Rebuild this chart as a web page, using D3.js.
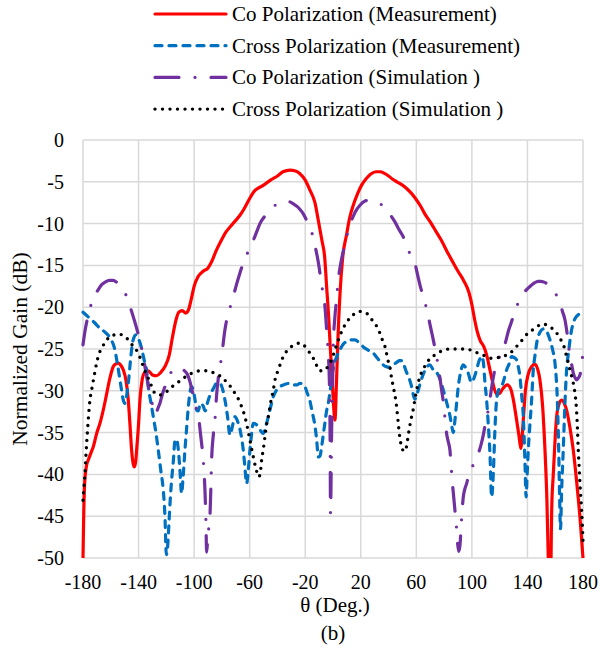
<!DOCTYPE html>
<html>
<head>
<meta charset="utf-8">
<script src="https://cdn.jsdelivr.net/npm/d3@7"></script>
<style>
  body { margin: 0; background: #fff; font-family: "Liberation Serif", serif; }
  svg text { font-family: "Liberation Serif", serif !important; }
</style>
</head>
<body>
<svg id="plot" width="600" height="653" font-family="Liberation Serif"></svg>
<script>
"use strict";

const xTicks = [-180, -140, -100, -60, -20, 20, 60, 100, 140, 180];
const yTicks = [0, -5, -10, -15, -20, -25, -30, -35, -40, -45, -50];
const legendLabels = [
  "Co Polarization (Measurement)",
  "Cross Polarization (Measurement)",
  "Co Polarization (Simulation )",
  "Cross Polarization (Simulation )"
];

// [theta (deg), normalized gain (dB)]
const coMeas = [
  [-180,-50],[-179.5,-45],[-178.8,-41],[-177.5,-39],[-176,-38.2],[-174,-37.3],[-172.6,-36.7],
  [-170,-35],[-167.8,-33.9],[-165,-32],[-162.9,-30.3],[-160.5,-28.4],[-158.2,-27.1],[-156.5,-26.8],
  [-154.6,-26.7],[-153,-26.9],[-151,-27.5],[-149,-28.8],[-147.4,-31.1],[-146,-34.5],[-145,-37.1],
  [-144,-38.6],[-143,-39.1],[-142,-38.4],[-141.4,-37.1],[-140,-34],[-139,-31.1],[-137.5,-28.8],
  [-136,-27.9],[-133,-27.6],[-130,-28.1],[-127,-28.2],[-124,-27.8],[-121,-27.1],[-118,-25.8],
  [-115.5,-23.5],[-113,-21.5],[-111,-20.6],[-108.5,-20.4],[-106,-20.7],[-104,-20.3],[-102,-19],
  [-100,-17.5],[-97,-16.3],[-93.5,-15.7],[-90,-15.3],[-87.5,-14.6],[-84,-13.2],[-81,-12.2],
  [-77,-11],[-72,-10],[-67,-9],[-64.6,-8.4],[-60,-7],[-57,-6.2],[-50,-5.4],[-45,-4.8],[-40,-4.3],
  [-36,-3.8],[-31,-3.6],[-27,-3.7],[-24,-4],[-20,-4.8],[-16.6,-6],[-13,-7.5],[-10.6,-9.6],
  [-8,-12],[-6,-14],[-4.6,-17.5],[-3,-21.5],[-2,-24.7],[-0.5,-29],[0.5,-32],[1.4,-33.5],
  [2.5,-29],[3.5,-24],[5,-18.5],[7,-14],[9.8,-11.3],[12,-9.3],[14.6,-7.8],[17.5,-6.5],[20.6,-5.4],
  [24,-4.6],[27,-4.1],[31,-3.8],[34,-3.8],[37,-4],[40,-4.3],[43,-4.7],[46,-5],[50,-5.4],[53,-5.8],
  [56,-6.3],[59,-6.9],[63,-7.9],[66,-8.8],[70,-9.8],[74,-10.9],[78,-12],[82,-13.3],[86.6,-14.7],
  [90,-15.7],[94,-16.8],[98,-18.3],[100,-19.7],[102,-21.5],[104,-23],[106,-24],[108.5,-24.7],
  [110.6,-25.7],[113,-27.5],[115,-29],[117.8,-30.4],[120,-30.3],[122,-29.8],[125.5,-29.3],
  [128,-29.8],[130,-31.2],[132.2,-33.5],[134,-35.5],[135.2,-36.9],[137,-33.5],[138.5,-30],
  [140.6,-28],[143,-27.1],[145.4,-26.8],[147.5,-27.5],[149,-28.7],[151,-32],[152.6,-37],
  [154,-43],[155,-50],[155.6,-53],[156.6,-53],[157.5,-44],[158.6,-40],[160,-35.5],[161,-33.1],
  [162.5,-31.7],[164.6,-31.1],[166.5,-31.5],[168.2,-32.3],[170.5,-34.3],[173,-37.1],
  [175.5,-41],[177.8,-45.1],[180,-50]
];

const crossMeas = [
  [-180,-20.6],[-176,-21.2],[-172,-21.8],[-168,-22.5],[-164,-23],[-160,-23.8],[-157.5,-24.8],
  [-155,-27],[-153,-29.1],[-151,-31.1],[-149.8,-31.5],[-148.5,-30.5],[-147,-28.5],[-145.5,-25.8],
  [-144,-24],[-142,-23.3],[-140,-23.8],[-138,-24.8],[-136,-26.3],[-134,-27.8],[-133,-29.5],
  [-131,-31.5],[-129.4,-33.1],[-127.5,-35],[-125.8,-37.1],[-124,-39.5],[-122.2,-41.9],[-121,-45],
  [-120,-49.6],[-119,-48.5],[-118,-45.5],[-117,-42.5],[-116,-40.3],[-115,-38.5],[-113.8,-36],
  [-112.6,-35.8],[-111.4,-37],[-110.2,-39.5],[-109,-42.3],[-108,-40.5],[-106.6,-37.1],
  [-105.4,-34.5],[-104.2,-32],[-103,-30.2],[-101.8,-29.5],[-100.5,-30],[-99.4,-31],[-98.2,-32.3],
  [-97,-32.4],[-95.5,-31.5],[-93.5,-31.8],[-92,-32.4],[-90.5,-31.5],[-88.5,-30.5],[-86,-29.7],
  [-83.8,-29.1],[-81.4,-29.1],[-79.5,-29.8],[-77.8,-31.1],[-76,-33],[-74.2,-35.3],[-72.5,-34.3],
  [-70.6,-33.1],[-68.2,-33.9],[-66.5,-35],[-64.6,-37.1],[-63.5,-39],[-62.2,-41.1],[-61,-39.5],
  [-59.8,-37.1],[-58.5,-35],[-57.4,-33.9],[-55.5,-34],[-53.8,-34.3],[-52,-34.8],[-50.2,-35.1],
  [-48.5,-34.3],[-46.6,-33.1],[-45,-32],[-43,-30.7],[-40.6,-29.9],[-38.2,-29.5],[-35.8,-29.3],
  [-31,-29.1],[-28.6,-29.3],[-26,-29.3],[-23.8,-29.1],[-22,-29.2],[-20.2,-29.5],[-18.5,-30.3],
  [-16.6,-31.2],[-15.4,-32.2],[-13,-34.2],[-11.8,-35.8],[-10.6,-37.9],[-9.4,-37.8],[-8.2,-36.7],
  [-6.8,-35],[-5.8,-33.8],[-4.5,-32.3],[-3.4,-31.5],[-2.2,-30.2],[-0.5,-28],[1.4,-26.5],[3,-25.8],
  [5,-25.1],[7.5,-24.4],[9.8,-24.1],[12.5,-23.9],[15.8,-23.9],[19,-24.3],[23,-24.9],[26,-25.2],
  [29,-25.5],[32,-26.1],[35,-26.7],[38,-27.1],[41,-27.2],[43.5,-26.9],[45.8,-26.6],[48,-26.4],
  [49.5,-26.4],[51,-26.9],[53,-27.8],[55,-28.6],[56.6,-29.5],[58,-30.6],[59,-31],[60,-30.6],
  [61.4,-29.9],[63,-29],[65,-28],[67.4,-27.2],[69.8,-26.9],[72.2,-27.5],[74.6,-27.8],[77,-28.6],
  [79.4,-29.9],[82,-31.5],[84.2,-33],[85.5,-34.2],[86.6,-35],[87.8,-33.5],[89,-31.5],[90.2,-29.5],
  [91.4,-28.2],[93.8,-26.9],[96,-27.4],[97.4,-27.9],[99,-28.8],[100,-29],[101.5,-28.5],
  [103.4,-27.5],[105,-26.5],[107,-25.9],[108.2,-26.5],[109.4,-29],[110.6,-31.1],[111.8,-34],
  [113,-37.5],[114.2,-42.7],[115.4,-40],[116.5,-35],[117.8,-31.1],[119.5,-29.8],[121.4,-29.5],
  [123,-28.7],[125,-27.5],[127,-26.7],[128.6,-25.9],[130.2,-26],[132.2,-26.3],[133.4,-27.1],
  [134.6,-28.3],[135.8,-30.5],[137,-33],[138.2,-38.5],[139,-42.7],[139.8,-40],[140.6,-37.1],
  [141.8,-34],[143,-31.1],[144.2,-27.5],[145.4,-25.8],[147,-24],[149,-23],[151.4,-22.6],
  [153.5,-22.8],[156.2,-23.9],[158,-25],[160,-27],[161.5,-31],[162.5,-37],[163.2,-43],
  [163.8,-46.5],[164.6,-42],[165.8,-37],[167,-31.5],[168.2,-27.5],[169.5,-25.5],[171.8,-22.7],
  [173,-21.9],[174.5,-21.3],[176.6,-20.9],[178.5,-20.6],[180,-20.6]
];

const coSim = [
  [-180,-24.5],[-178.5,-22.8],[-177,-21.5],[-175.2,-20.3],[-173.5,-19.3],[-171.6,-18.6],
  [-169,-17.9],[-166.5,-17.3],[-164,-17],[-161,-16.8],[-158.4,-16.8],[-156,-17],[-153.4,-17.5],
  [-151,-18],[-148.6,-18.7],[-147,-19.5],[-145,-20.5],[-143,-21.6],[-141.4,-22.5],[-139.5,-23.7],
  [-137.8,-24.9],[-136,-26.5],[-134.2,-28.3],[-132.5,-29.8],[-130.6,-31.1],[-129.4,-32.3],
  [-128.2,-32.8],[-127,-32.5],[-125.8,-32],[-124.6,-31.5],[-123,-30.5],[-121,-29.5],
  [-119.8,-28.9],[-117.4,-28],[-115,-27.5],[-112.6,-27.3],[-110.5,-27.2],[-109,-27.3],
  [-107,-27.6],[-105,-28],[-103,-28.9],[-101,-30.3],[-99.4,-31.3],[-98.2,-32.3],[-96.5,-33.5],
  [-95.5,-35],[-94.6,-36.3],[-93.4,-38.3],[-92.2,-41.9],[-91.5,-45.5],[-91,-49.3],[-90.3,-48],
  [-89.5,-46.5],[-88.6,-45],[-88,-42],[-87.4,-38.3],[-86.2,-35.3],[-85,-33.5],[-83.8,-30.5],
  [-82.6,-28.5],[-80.2,-25.9],[-77.8,-22.7],[-75.4,-20.7],[-73.5,-19.7],[-71.8,-18.7],
  [-69.5,-17.3],[-67,-15.9],[-64.6,-14.7],[-62.2,-13.8],[-60,-12.8],[-57.4,-12],[-55,-11],
  [-52.6,-10],[-49.5,-9.2],[-46.6,-8.6],[-43,-8],[-40,-7.6],[-37,-7.4],[-34,-7.3],[-31,-7.4],
  [-28,-7.7],[-25.5,-8],[-23.8,-8.3],[-21.5,-8.8],[-19,-9.6],[-17,-10.3],[-15.4,-11],[-13,-12.6],
  [-10.6,-14.6],[-8.2,-17.3],[-7,-18.5],[-5.8,-19.9],[-4.6,-22.7],[-3.4,-25.6],[-2.6,-29],
  [-2.2,-33],[-2,-38],[-1.8,-44.6],[-1,-35],[-0.3,-29],[0.2,-24.7],[1.4,-21.1],[2.5,-19.2],
  [3.8,-16.7],[5,-15.3],[6.2,-14.2],[8,-12.9],[9.8,-11.6],[11.5,-10.5],[13.4,-9.6],[16,-8.6],
  [19.4,-7.8],[23,-7.3],[26.6,-7.2],[30,-7.3],[33.8,-7.6],[36,-7.9],[38.6,-8.3],[41.5,-9],
  [44.6,-9.8],[47.5,-10.7],[50.6,-11.6],[53,-12.7],[55.4,-13.6],[57,-14.2],[59,-14.8],
  [61.4,-16.5],[63,-17.6],[65,-18.7],[66.8,-19.8],[68.6,-21.1],[70.5,-22.6],[72.2,-23.9],
  [73.5,-25],[74.6,-25.9],[76.5,-27.9],[78.2,-29.9],[79.4,-31.3],[80.6,-33.2],[81.8,-35.1],
  [83,-36.1],[84.2,-37.1],[85,-38.9],[86,-41.1],[86.8,-42.5],[87.8,-44.3],[89,-46.5],
  [89.8,-48.4],[90.5,-49.2],[91.4,-48.5],[92.5,-45.5],[93.8,-42.7],[95,-41.7],[96.2,-41.1],
  [97.4,-40.3],[98.6,-39.6],[99.8,-39.3],[101.5,-38.6],[104.6,-37.5],[106.5,-36.5],[108.2,-35.3],
  [110.6,-33.1],[111.8,-32.3],[113,-31],[115.4,-28.4],[117,-27.2],[119,-26.3],[120.5,-25.7],
  [122.6,-25.1],[124.5,-24],[126.2,-22.9],[128,-22],[129.8,-21.1],[132,-20],[134.6,-19.1],
  [137,-18.4],[139.4,-17.9],[142,-17.5],[145,-17.1],[147.5,-16.9],[149.5,-16.9],[152,-17],
  [155,-17.3],[158.6,-17.9],[161,-18.6],[163.4,-19.5],[165.2,-20.5],[167,-21.5],[168.7,-23.3],
  [170.6,-25.9],[172,-27],[173,-27.9],[174.5,-28.5],[175.4,-28.7],[176.5,-28.5],[177.8,-28.1],
  [179,-27],[180,-25.3]
];

const crossSim = [
  [-180,-43.1],[-179.3,-41.5],[-178.6,-40],[-177.8,-37.5],[-176.9,-35.1],[-176,-33],[-175,-31.1],
  [-173.8,-29.9],[-172.6,-28.8],[-170.2,-26.7],[-168.5,-25.6],[-166.6,-24.9],[-164,-24.2],
  [-161.8,-23.7],[-159.5,-23.4],[-157,-23.3],[-154.5,-23.2],[-152.2,-23.3],[-150,-23.5],
  [-147.4,-23.9],[-145.5,-24.3],[-143.8,-24.7],[-140.2,-25.5],[-138.5,-26.2],[-136.6,-27.1],
  [-134.5,-28],[-133,-28.5],[-131,-29.3],[-129.4,-30],[-127,-30.4],[-124.6,-30.5],[-122,-30.3],
  [-119.8,-30.1],[-117.4,-29.7],[-115,-29.4],[-112.6,-29.1],[-110,-28.8],[-107.8,-28.5],
  [-105,-28.2],[-101.8,-27.9],[-98.5,-27.7],[-95.8,-27.6],[-92.5,-27.6],[-89.8,-27.6],
  [-86.5,-27.8],[-83.8,-28],[-81.5,-28.2],[-79,-28.5],[-76.5,-29],[-74.2,-29.4],[-71.8,-30],
  [-69.4,-30.6],[-67.5,-31.2],[-65.8,-31.9],[-63.4,-33.1],[-61.5,-34.5],[-59.8,-35.9],
  [-58.5,-37],[-57.4,-37.9],[-55,-39.6],[-53.5,-40.3],[-52.5,-40],[-51.4,-38.3],[-50,-36.8],
  [-49,-35.5],[-47.8,-34],[-46.6,-33.1],[-45,-31.5],[-43,-29.9],[-41.5,-28.5],[-39.4,-27.5],
  [-37.5,-26.6],[-35.8,-25.9],[-33,-25.2],[-29.8,-24.7],[-27,-24.4],[-23.8,-24.3],[-21.5,-24.5],
  [-19,-24.9],[-17,-25.4],[-14.2,-26.1],[-12,-26.9],[-9.4,-27.6],[-7,-27.6],[-4.6,-27.3],
  [-2.5,-26.8],[-1,-26.3],[1.4,-25.1],[2.6,-24.5],[5,-23.4],[7.4,-22.5],[9.8,-21.8],[12.2,-21.3],
  [14.6,-20.9],[17,-20.6],[19.4,-20.5],[22,-20.6],[25.4,-20.9],[28,-21.5],[30.2,-21.9],
  [32.6,-22.7],[33.8,-23.1],[35.5,-23.9],[37.4,-24.7],[39.8,-26.5],[41,-27.2],[42.2,-28.5],
  [43.4,-29.5],[45.8,-31.9],[47,-33.9],[48.2,-35.7],[49.5,-36.7],[50.8,-37.2],[52,-37.2],
  [53,-36.6],[54.2,-35.3],[55.4,-34.1],[56.6,-33.1],[57.8,-32.2],[59.5,-30.5],[61,-29.3],
  [62.6,-28.3],[65,-27.4],[67.4,-26.7],[70,-26.1],[72.5,-25.8],[74.6,-25.6],[77.5,-25.3],
  [80.6,-25.1],[83.5,-25],[86.6,-25],[89.5,-25],[92.6,-25],[95.5,-25],[98.6,-25.1],
  [101.5,-25.3],[104.6,-25.5],[107.5,-25.7],[110.6,-25.9],[113.5,-26.1],[116.6,-26.1],
  [119.5,-26],[122.6,-25.9],[125,-25.7],[127.4,-25.5],[130,-25.1],[132.2,-24.7],[134,-24.3],
  [135.8,-24],[138,-23.5],[140.6,-23.1],[143,-22.8],[145.4,-22.5],[148,-22.2],[150.2,-22],
  [152.5,-22.05],[155,-22.2],[157.5,-22.5],[159.8,-22.8],[161.5,-23.2],[163.4,-23.7],
  [165,-24.2],[166.3,-24.7],[168.2,-25.9],[169.5,-26.7],[170.6,-27.5],[172.5,-28.7],
  [173.7,-29.7],[174.6,-30.8],[175.4,-32.5],[176,-34.5],[176.6,-37.1],[177.2,-39],
  [177.8,-41.1],[178.4,-42.7],[179,-44.3],[179.5,-46],[180,-48]
];

const series = [
  { data: coMeas, color: "#ff0000", width: 3.2, dash: null },
  { data: crossMeas, color: "#0070c0", width: 3.2, dash: "7,7" },
  { data: coSim, color: "#7030a0", width: 3.2, dash: "24,16,0,16" },
  { data: crossSim, color: "#000000", width: 3.4, dash: "0,7.5" }
];

const margin = { top: 140, right: 17, bottom: 95, left: 83 };
const width = 600, height = 653;

const svg = d3.select("svg#plot");

const x = d3.scaleLinear().domain([-180, 180]).range([margin.left, width - margin.right]);
const y = d3.scaleLinear().domain([-50, 0]).range([height - margin.bottom, margin.top]);

function label(sel) {
  return sel.style("font-family", "Liberation Serif");
}

// grid
const grid = svg.append("g").attr("stroke", "#d9d9d9").attr("stroke-width", 1.5);
grid.selectAll(".gx").data(xTicks).enter().append("line")
  .attr("x1", d => x(d)).attr("x2", d => x(d))
  .attr("y1", y(0)).attr("y2", y(-50));
grid.selectAll(".gy").data(yTicks).enter().append("line")
  .attr("x1", x(-180)).attr("x2", x(180))
  .attr("y1", d => y(d)).attr("y2", d => y(d));

// clip to plot area
svg.append("clipPath").attr("id", "clip").append("rect")
  .attr("x", x(-180) - 3).attr("y", y(0))
  .attr("width", x(180) - x(-180) + 6).attr("height", y(-50) - y(0));

const line = d3.line().x(d => x(d[0])).y(d => y(d[1])).curve(d3.curveMonotoneX);

const lines = svg.append("g").attr("clip-path", "url(#clip)");
lines.selectAll("path").data(series).enter().append("path")
  .attr("d", d => line(d.data))
  .attr("fill", "none")
  .attr("stroke", d => d.color)
  .attr("stroke-width", d => d.width)
  .attr("stroke-dasharray", d => d.dash)
  .attr("stroke-linecap", "round")
  .attr("stroke-linejoin", "round");

// tick labels
svg.selectAll("text.xt").data(xTicks).enter().append("text")
  .attr("class", "xt")
  .attr("x", d => x(d)).attr("y", y(-50) + 31)
  .attr("text-anchor", "middle").attr("font-size", 20)
  .call(label)
  .text(d => d);
svg.selectAll("text.yt").data(yTicks).enter().append("text")
  .attr("class", "yt")
  .attr("x", x(-180) - 19).attr("y", d => y(d) + 7)
  .attr("text-anchor", "end").attr("font-size", 20)
  .call(label)
  .text(d => d);

// axis titles
svg.append("text")
  .attr("transform", `translate(27, ${(y(0) + y(-50)) / 2}) rotate(-90)`)
  .attr("text-anchor", "middle").attr("font-size", 21.5)
  .call(label)
  .text("Normalized Gain (dB)");
svg.append("text")
  .attr("x", 335).attr("y", 612)
  .attr("text-anchor", "middle").attr("font-size", 21)
  .call(label)
  .text("θ (Deg.)");
svg.append("text")
  .attr("x", 333).attr("y", 640)
  .attr("text-anchor", "middle").attr("font-size", 21)
  .call(label)
  .text("(b)");

// legend
svg.selectAll("line.leg").data(series).enter().append("line")
  .attr("class", "leg")
  .attr("x1", 155).attr("x2", 226)
  .attr("y1", (d, i) => 14 + i * 31.7).attr("y2", (d, i) => 14 + i * 31.7)
  .attr("stroke", d => d.color)
  .attr("stroke-width", d => d.width)
  .attr("stroke-dasharray", d => d.dash)
  .attr("stroke-linecap", "round");
svg.selectAll("text.leg").data(legendLabels).enter().append("text")
  .attr("class", "leg")
  .attr("x", 232).attr("y", (d, i) => 21 + i * 31.7)
  .attr("font-size", 21)
  .call(label)
  .text(d => d);
</script>
</body>
</html>
